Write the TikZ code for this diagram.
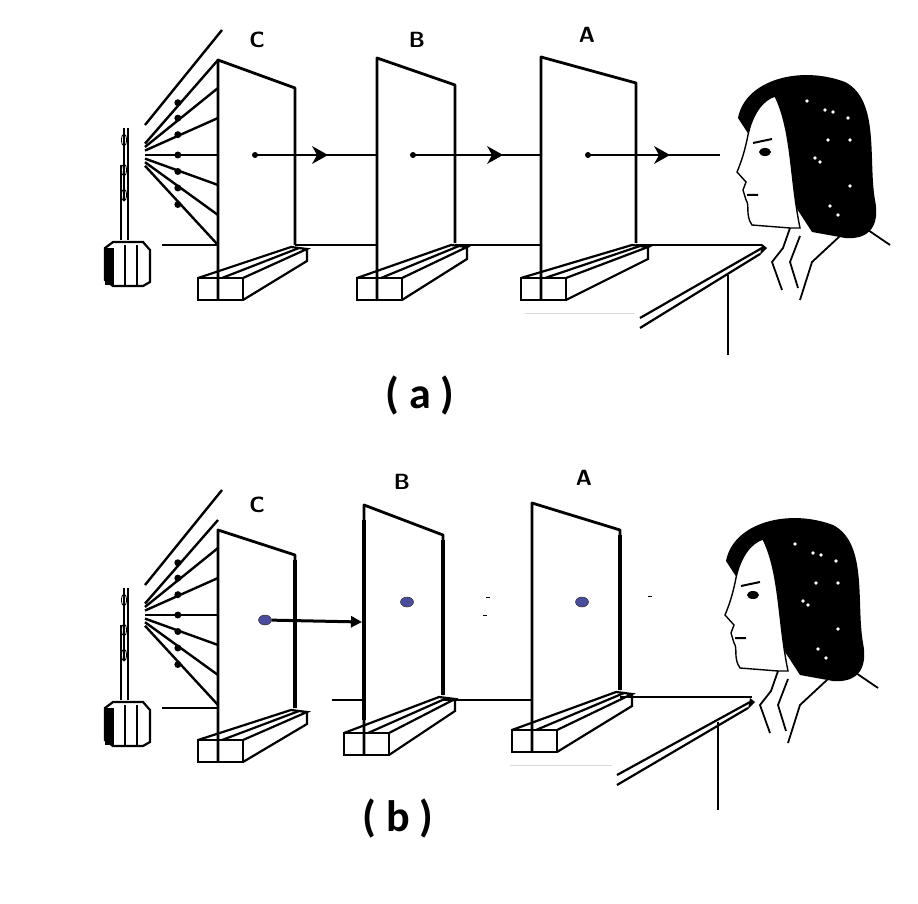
\documentclass[tikz,border=0pt]{standalone}
\usepackage{fontspec}
\setmainfont{Carlito}
\usetikzlibrary{arrows.meta,shapes.geometric}
\tikzset{
  edge/.style={line width=2.8pt,line join=round},
  thin edge/.style={line width=2.2pt},
  ray/.style={line width=2.4pt},
  spot/.style={ellipse,fill=blue!45!black!70,draw=black!80,line width=0.5pt,
               minimum width=13pt,minimum height=10pt,inner sep=0pt},
  letter/.style={font=\sffamily\bfseries\fontsize{22}{24}\selectfont},
  caption/.style={font=\bfseries\fontsize{44}{48}\selectfont}
}
% screen: left x, top-left y, right x, top-right y, right foot y, front foot y
\newcommand{\plate}[6]{%
  \draw[edge] (#1,#6) -- (#1,#2) -- (#3,#4) -- (#3,#5);
  \draw[thin edge] (#1-20,#6-22) rectangle (#1+25,#6);
  \draw[thin edge] (#1-20,#6-22) -- (#3-4,#5+2) -- (#3+12,#5+4) -- (#1+25,#6-22)
        (#1+25,#6) -- (#3+12,#5+16) -- (#3+12,#5+4);
  \draw[thin edge] (#1+4,#6-22) -- (#3+4,#5+3);
}
% candle with the light fan, by its holder's top-left corner
\newcommand{\flame}[2]{%
  \begin{scope}[shift={(#1,#2)}]
    \fill (0,8) rectangle (9,45);
    \draw[thin edge] (0,8) -- (8,2) -- (38,2) -- (45,10) -- (45,42) -- (38,46) -- (8,46) -- (0,40) -- cycle;
    \draw[thin edge] (20,5) -- (20,45) (32,5) -- (32,45);
    \draw[thin edge] (16,0) -- (16,-75) (23,0) -- (23,-112);
    \draw[thin edge] (19,-112) -- (19,-40);
    \foreach \yy in {-100,-70,-45} \draw[thick] (19,\yy) ellipse (2.5 and 6);
  \end{scope}}
\newcommand{\fan}[3]{% source x, source y, screen x
  \foreach \ey in {-95,-67,-37,0,30,60,90} {
    \draw[ray] (#1,#2+\ey*0.12) -- (#3,#2+\ey);
    \fill (#1*0.55+#3*0.45,#2+\ey*0.55) circle (3.5);
  }
  \draw[ray] (#1,#2-30) -- (#3+4,#2-125);
}
% woman looking to the left
\newcommand{\viewer}{%
  \fill (738,118) .. controls (745,80) and (800,65) .. (845,82)
        .. controls (880,100) and (868,160) .. (875,200)
        .. controls (880,225) and (870,240) .. (845,238)
        -- (812,232) -- cycle;
  \filldraw[fill=white,line width=1.4pt] (775,96) .. controls (792,130) and (790,180) .. (800,228)
        -- (790,228) -- (752,225) .. controls (745,215) and (750,205) .. (746,200)
        -- (743,190) -- (746,182) -- (737,172) .. controls (742,160) and (745,150) .. (748,135)
        .. controls (752,115) and (762,100) .. (775,96);
  \fill (765,152) ellipse (6 and 4);
  \draw[line width=2pt] (753,143) -- (772,139) (747,195) -- (758,195);
  \foreach \hx/\hy in {807/101,825/110,833/112,848/118,828/140,850/140,815/158,820/162,850/186,830/206,838/215}
    \fill[white] (\hx,\hy) circle (1.8);
  \draw[line width=1.8pt] (790,228) -- (783,248) -- (772,262) -- (782,290)
        (800,236) -- (790,262) -- (798,288)
        (840,236) -- (812,262) -- (800,300)
        (868,230) -- (890,245);
}
% table edge and leg
\newcommand{\desk}[4]{% corner x, corner y, end x, end y
  \draw[thin edge] (#1,#2) -- (#3,#4) (#1-2,#2+6) -- (#3,#4+10);
  \fill (#1,#2-4) -- (#1+5,#2) -- (#1-2,#2+7) -- cycle;
}
\begin{document}
\begin{tikzpicture}[x=1pt,y=-1pt]
  \useasboundingbox (0,0) rectangle (918,904);
  % ---------- panel (a) ----------
  \plate{218}{60}{295}{88}{245}{300}
  \plate{377}{58}{455}{85}{243}{300}
  \plate{541}{57}{636}{83}{243}{300}
  \flame{105}{240}
  \fan{145}{155}{218}
  \node[letter] (ca) at (257,40) {C};
  \node[letter] (ba) at (417,40) {B};
  \node[letter] (aa) at (587,35) {A};
  % rays through the pin holes
  \foreach \sx/\ex/\mx in {255/377/320,413/541/495,588/720/662} {
    \draw[ray] (\sx,155) -- (\ex,155);
    \fill (\sx,155) circle (3);
    \fill (\mx-8,146) -- (\mx+8,155) -- (\mx-8,164) -- (\mx-3,155) -- cycle;
  }
  \draw[thin edge] (162,245) -- (218,245) (295,245) -- (377,245)
        (455,245) -- (541,245) (636,245) -- (762,245);
  \desk{762}{248}{640}{318}
  \draw[thin edge] (728,275) -- (728,355);
  \draw[black!15] (525,313) -- (635,313);
  \viewer
  \node[caption] (capa) at (420,395) {( a )};
  % ---------- panel (b) ----------
  \plate{218}{530}{295}{555}{708}{762}
  \plate{364}{505}{443}{535}{695}{755}
  \plate{532}{503}{620}{530}{690}{752}
  \draw[line width=4.5pt] (364,520) -- (364,720) (443,540) -- (443,695) (620,535) -- (620,690) (295,560) -- (295,708);
  \flame{105}{700}
  \fan{145}{615}{218}
  \node[letter] (cb) at (257,505) {C};
  \node[letter] (bb) at (402,482) {B};
  \node[letter] (ab) at (584,478) {A};
  \draw[thin edge] (162,708) -- (218,708) (332,700) -- (364,700)
        (443,700) -- (532,700) (620,697) -- (752,697);
  \coordinate (hitb) at (362,622);
  \node[spot] (pinc) at (265,620) {};
  \node[spot] (pinb) at (407,602) {};
  \node[spot] (pina) at (582,602) {};
  \draw[line width=3pt,-{Triangle[length=11pt,width=11pt]}] (pinc) -- (hitb);
  \draw[line width=1pt] (486,597) -- (490,597) (483,615) -- (487,615) (648,596) -- (652,596);
  \desk{750}{702}{617}{775}
  \draw[thin edge] (718,722) -- (718,810);
  \draw[black!15] (510,765) -- (612,765);
  \begin{scope}[shift={(-12,443)}]
    \viewer
  \end{scope}
  \node[caption] (capb) at (398,818) {( b )};
\end{tikzpicture}
\end{document}
